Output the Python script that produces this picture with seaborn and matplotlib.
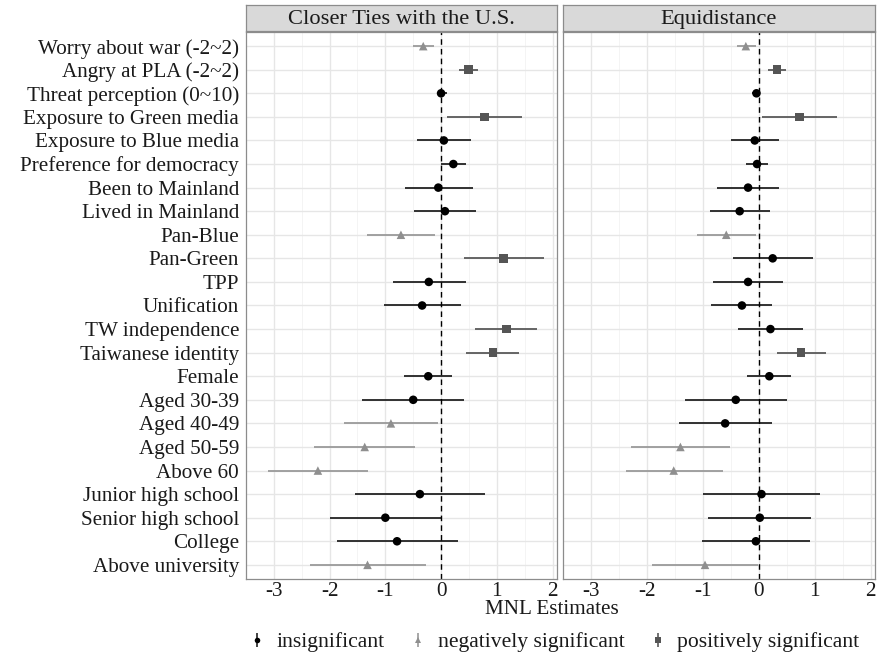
import numpy as np
import pandas as pd
import matplotlib
matplotlib.use("Agg")
import matplotlib.pyplot as plt
import seaborn as sns
from matplotlib.lines import Line2D
from matplotlib.legend_handler import HandlerTuple

sns.set_theme(style="whitegrid")
plt.rcParams['font.family'] = ['Liberation Serif', 'DejaVu Serif']
plt.rcParams['axes.unicode_minus'] = False

variables = ["Worry about war (-2~2)", "Angry at PLA (-2~2)", "Threat perception (0~10)",
             "Exposure to Green media", "Exposure to Blue media", "Preference for democracy",
             "Been to Mainland", "Lived in Mainland", "Pan-Blue", "Pan-Green", "TPP",
             "Unification", "TW independence", "Taiwanese identity", "Female",
             "Aged 30-39", "Aged 40-49", "Aged 50-59", "Above 60",
             "Junior high school", "Senior high school", "College", "Above university"]

panels = ["Closer Ties with the U.S.", "Equidistance"]

us_est = [-0.32, 0.49, 0.00, 0.78, 0.05, 0.22, -0.05, 0.07, -0.72, 1.12, -0.22, -0.34, 1.17, 0.93,
          -0.23, -0.50, -0.90, -1.37, -2.21, -0.38, -1.00, -0.79, -1.32]
us_lo = [-0.51, 0.32, -0.08, 0.10, -0.43, 0.00, -0.65, -0.48, -1.33, 0.41, -0.87, -1.02, 0.60, 0.44,
         -0.66, -1.41, -1.74, -2.28, -3.11, -1.54, -2.00, -1.86, -2.35]
us_hi = [-0.13, 0.67, 0.10, 1.46, 0.53, 0.44, 0.57, 0.63, -0.11, 1.84, 0.44, 0.35, 1.73, 1.40,
         0.20, 0.41, -0.06, -0.46, -1.31, 0.78, 0.01, 0.30, -0.27]
us_sig = ["neg", "pos", "ins", "pos", "ins", "ins", "ins", "ins", "neg", "pos", "ins", "ins", "pos", "pos",
          "ins", "ins", "neg", "neg", "neg", "ins", "ins", "ins", "neg"]

eq_est = [-0.23, 0.33, -0.04, 0.73, -0.07, -0.03, -0.19, -0.34, -0.58, 0.25, -0.19, -0.30, 0.21, 0.76,
          0.19, -0.41, -0.60, -1.40, -1.52, 0.05, 0.02, -0.05, -0.96]
eq_lo = [-0.39, 0.16, -0.12, 0.06, -0.49, -0.23, -0.74, -0.87, -1.10, -0.46, -0.82, -0.85, -0.37, 0.33,
         -0.21, -1.31, -1.43, -2.29, -2.38, -1.00, -0.90, -1.01, -1.91]
eq_hi = [-0.05, 0.48, 0.03, 1.40, 0.37, 0.16, 0.36, 0.20, -0.05, 0.97, 0.43, 0.24, 0.79, 1.21,
         0.58, 0.51, 0.24, -0.51, -0.64, 1.09, 0.93, 0.91, -0.02]
eq_sig = ["neg", "pos", "ins", "pos", "ins", "ins", "ins", "ins", "neg", "ins", "ins", "ins", "ins", "pos",
          "ins", "ins", "ins", "neg", "neg", "ins", "ins", "ins", "neg"]

sig_labels = {"ins": "insignificant", "neg": "negatively significant", "pos": "positively significant"}
sig_order = ["insignificant", "negatively significant", "positively significant"]
colors = {"insignificant": "#000000", "negatively significant": "#8f8f8f", "positively significant": "#555555"}
line_colors = {"insignificant": "#222222", "negatively significant": "#9a9a9a", "positively significant": "#5a5a5a"}
markers = {"insignificant": "o", "negatively significant": "^", "positively significant": "s"}

frames = []
for p, est, lo, hi, sig in [(panels[0], us_est, us_lo, us_hi, us_sig), (panels[1], eq_est, eq_lo, eq_hi, eq_sig)]:
    frames.append(pd.DataFrame({"panel": p, "variable": variables, "est": est, "lo": lo, "hi": hi,
                                "sig": [sig_labels[s] for s in sig]}))
df = pd.concat(frames, ignore_index=True)
df["ypos"] = df["variable"].map({v: i for i, v in enumerate(variables)})

W, H = 878, 658
fig = plt.figure(figsize=(W / 100, H / 100), dpi=100)
fs = 15.2
txtc = "#1a1a1a"

ax_specs = [(246, 557), (563, 875)]
top, bottom = 32, 579
axes = []
for (x0, x1), pname in zip(ax_specs, panels):
    ax = fig.add_axes([x0 / W, 1 - bottom / H, (x1 - x0) / W, (bottom - top) / H])
    axes.append(ax)
    sub = df[df["panel"] == pname]
    ax.set_facecolor("white")
    ax.set_xlim(-3.36, 2.08)
    ax.set_ylim(len(variables) - 0.4, -0.6)
    ax.set_xticks([-3, -2, -1, 0, 1, 2])
    ax.set_xticks(np.arange(-3.5, 2.1, 0.5), minor=True)
    ax.set_yticks(range(len(variables)))
    ax.grid(True, which="major", color="#e6e6e6", linewidth=1.0)
    ax.grid(True, which="minor", axis="x", color="#f2f2f2", linewidth=0.6)
    ax.set_axisbelow(True)
    for s in ax.spines.values():
        s.set_color("#8c8c8c")
        s.set_linewidth(0.9)
    for sg in sig_order:
        ss = sub[sub["sig"] == sg]
        ax.hlines(ss["ypos"], ss["lo"], ss["hi"], color=line_colors[sg], linewidth=1.3, zorder=2)
    sns.scatterplot(data=sub, x="est", y="ypos", hue="sig", style="sig", hue_order=sig_order,
                    style_order=sig_order, palette=colors, markers=markers, s=38,
                    edgecolor="none", legend=False, ax=ax, zorder=3)
    ax.axvline(0, color="black", linestyle=(0, (4, 3)), linewidth=1.0, zorder=2.5)
    ax.set_xlabel("")
    ax.set_ylabel("")
    ax.tick_params(axis="x", labelsize=fs, colors="#333333", length=3, width=0.8, labelcolor=txtc, pad=-1)
    ax.tick_params(axis="y", labelsize=fs, colors="#333333", length=3, width=0.8, labelcolor=txtc, pad=2)
    if ax is axes[0]:
        ax.set_yticklabels(variables)
    else:
        ax.set_yticklabels([])
        ax.tick_params(axis="y", length=0)
    # strip
    sax = fig.add_axes([x0 / W, 1 - 31 / H, (x1 - x0) / W, 26 / H])
    sax.set_facecolor("#d9d9d9")
    sax.set_xticks([])
    sax.set_yticks([])
    for s in sax.spines.values():
        s.set_color("#8c8c8c")
        s.set_linewidth(0.9)
    sax.text(0.5, 0.45, pname, ha="center", va="center", fontsize=16.2, color=txtc,
             transform=sax.transAxes)

fig.text(552 / W, 1 - 610 / H, "MNL Estimates", ha="center", va="center", fontsize=fs, color=txtc)

handles = []
for sg in sig_order:
    vline = Line2D([], [], color=line_colors[sg], marker="|", markersize=10, linestyle="none", markeredgewidth=1.2)
    pt = Line2D([], [], color=colors[sg], marker=markers[sg], markersize=4, linestyle="none", markeredgewidth=0)
    handles.append((vline, pt))
fig.legend(handles, sig_order, handler_map={tuple: HandlerTuple(ndivide=1, pad=0)},
           loc="center", bbox_to_anchor=(555 / W, 1 - 642 / H), ncol=3, frameon=False,
           fontsize=15.6, handlelength=0.6, handletextpad=0.6, columnspacing=1.25,
           labelcolor=txtc, borderpad=0, borderaxespad=0)

fig.savefig("out.png", dpi=100)
